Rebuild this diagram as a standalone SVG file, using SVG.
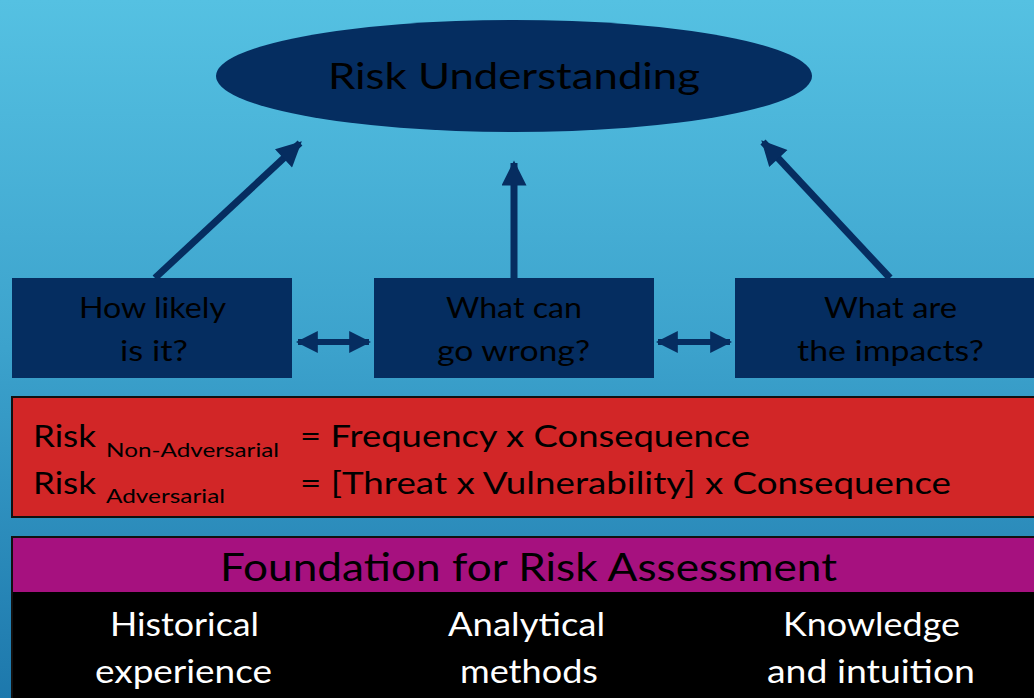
<svg xmlns="http://www.w3.org/2000/svg" width="1034" height="698" viewBox="0 0 1034 698">
<defs>
<linearGradient id="bg" x1="0" y1="0" x2="0" y2="1">
<stop offset="0" stop-color="#55c1e2"/>
<stop offset="0.5" stop-color="#3ca2cc"/>
<stop offset="1" stop-color="#1d78ac"/>
</linearGradient>
<marker id="ah" viewBox="0 0 10 10" refX="9" refY="5" markerWidth="26" markerHeight="25" markerUnits="userSpaceOnUse" orient="auto-start-reverse">
<path d="M0,0 L10,5 L0,10 Z" fill="#062d60"/>
</marker>
<marker id="dh" viewBox="0 0 10 10" refX="9" refY="5" markerWidth="22" markerHeight="22" markerUnits="userSpaceOnUse" orient="auto-start-reverse">
<path d="M0,0 L10,5 L0,10 Z" fill="#062d60"/>
</marker>
</defs>
<style>
.t{font-family:Lato,"Liberation Sans",sans-serif;fill:#000}
.w{font-family:Lato,"Liberation Sans",sans-serif;fill:#fff}
.node{fill:#052d60}
.c{stroke:#062d60;fill:none}
</style>
<rect x="0" y="0" width="1034" height="698" fill="url(#bg)"/>
<g id="connectors">
<line class="c" x1="155" y1="278" x2="300" y2="143" stroke-width="7" marker-end="url(#ah)"/>
<line class="c" x1="514" y1="278" x2="514" y2="163" stroke-width="7" marker-end="url(#ah)"/>
<line class="c" x1="890" y1="278" x2="763" y2="142" stroke-width="7" marker-end="url(#ah)"/>
<line class="c" x1="298" y1="342" x2="369" y2="342" stroke-width="6" marker-start="url(#dh)" marker-end="url(#dh)"/>
<line class="c" x1="658" y1="342" x2="730" y2="342" stroke-width="6" marker-start="url(#dh)" marker-end="url(#dh)"/>
</g>
<g id="risk-understanding">
<ellipse class="node" cx="514" cy="76" rx="298" ry="56"/>
<text class="t" x="514" y="89" font-size="37" text-anchor="middle" textLength="372" lengthAdjust="spacingAndGlyphs">Risk Understanding</text>
</g>
<g id="how-likely">
<rect class="node" x="12" y="278" width="280" height="100"/>
<text class="t" x="152.5" y="318" font-size="29" text-anchor="middle" textLength="147" lengthAdjust="spacingAndGlyphs">How likely</text>
<text class="t" x="154" y="361" font-size="29" text-anchor="middle" textLength="68" lengthAdjust="spacingAndGlyphs">is it?</text>
</g>
<g id="what-can-go-wrong">
<rect class="node" x="374" y="278" width="280" height="100"/>
<text class="t" x="514" y="318" font-size="29" text-anchor="middle" textLength="136" lengthAdjust="spacingAndGlyphs">What can</text>
<text class="t" x="513.5" y="361" font-size="29" text-anchor="middle" textLength="153" lengthAdjust="spacingAndGlyphs">go wrong?</text>
</g>
<g id="what-are-impacts">
<rect class="node" x="735" y="278" width="310" height="100"/>
<text class="t" x="890.5" y="318" font-size="29" text-anchor="middle" textLength="133" lengthAdjust="spacingAndGlyphs">What are</text>
<text class="t" x="890.5" y="361" font-size="29" text-anchor="middle" textLength="187" lengthAdjust="spacingAndGlyphs">the impacts?</text>
</g>
<g id="risk-formula">
<rect x="12" y="397" width="1030" height="120" fill="#d22627" stroke="#111" stroke-width="2"/>
<text class="t" x="33" y="447" font-size="31" textLength="63" lengthAdjust="spacingAndGlyphs">Risk</text>
<text class="t" x="106" y="457" font-size="20" textLength="173" lengthAdjust="spacingAndGlyphs">Non-Adversarial</text>
<text class="t" x="300" y="447" font-size="31" textLength="450" lengthAdjust="spacingAndGlyphs">= Frequency x Consequence</text>
<text class="t" x="33" y="494" font-size="31" textLength="63" lengthAdjust="spacingAndGlyphs">Risk</text>
<text class="t" x="106" y="503" font-size="20" textLength="119" lengthAdjust="spacingAndGlyphs">Adversarial</text>
<text class="t" x="300" y="494" font-size="31" textLength="651" lengthAdjust="spacingAndGlyphs">= [Threat x Vulnerability] x Consequence</text>
</g>
<g id="foundation">
<rect x="12" y="537" width="1030" height="170" fill="#000" stroke="#111" stroke-width="2"/>
<rect x="13" y="538" width="1030" height="54" fill="#a6117f"/>
<text class="t" x="528.5" y="581" font-size="39" text-anchor="middle" textLength="617" lengthAdjust="spacingAndGlyphs">Foundation for Risk Assessment</text>
</g>
<g id="historical">
<text class="w" x="184.5" y="636" font-size="33" text-anchor="middle" textLength="149" lengthAdjust="spacingAndGlyphs">Historical</text>
<text class="w" x="183.5" y="683" font-size="33" text-anchor="middle" textLength="177" lengthAdjust="spacingAndGlyphs">experience</text>
</g>
<g id="analytical">
<text class="w" x="526.5" y="636" font-size="33" text-anchor="middle" textLength="157" lengthAdjust="spacingAndGlyphs">Analytical</text>
<text class="w" x="529" y="683" font-size="33" text-anchor="middle" textLength="138" lengthAdjust="spacingAndGlyphs">methods</text>
</g>
<g id="knowledge">
<text class="w" x="871.5" y="636" font-size="33" text-anchor="middle" textLength="177" lengthAdjust="spacingAndGlyphs">Knowledge</text>
<text class="w" x="871" y="683" font-size="33" text-anchor="middle" textLength="208" lengthAdjust="spacingAndGlyphs">and intuition</text>
</g>
</svg>
